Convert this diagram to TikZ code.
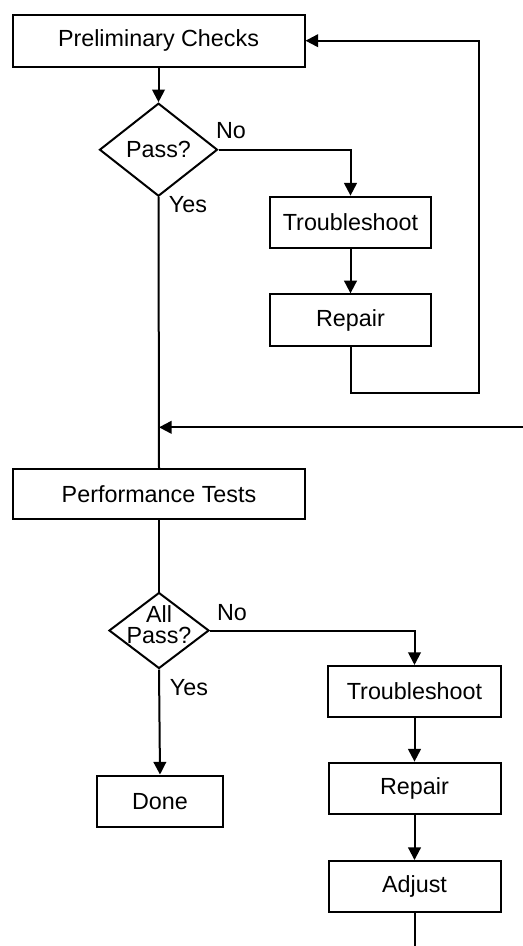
\documentclass[tikz,border=0pt]{standalone}
\usepackage{fontspec}
\setmainfont{Liberation Sans}
\usetikzlibrary{shapes.geometric,arrows.meta}

\tikzset{every picture/.style={line width=0.75pt}}
\tikzset{
  stepbox/.style={draw, line width=1.5, inner sep=0.75pt, minimum height=38.5pt, font=\fontsize{17.5}{20}\selectfont},
  decision/.style={draw, diamond, line width=1.5, inner sep=0pt, align=center, font=\fontsize{17.5}{16}\selectfont},
  flow/.style={line width=1.5},
  flowarrow/.style={line width=1.5, -{Triangle[length=9.5pt,width=9.5pt]}},
  answer/.style={inner sep=0.75pt, font=\fontsize{17.5}{20}\selectfont}
}

\begin{document}
\begin{tikzpicture}[x=0.75pt,y=0.75pt,yscale=-1,xscale=1]
\useasboundingbox (0,0) rectangle (523,946);

%Shape: Rectangle [id:prelim]
\node [stepbox, minimum width=219pt, minimum height=39pt] (prelim) at (158.5,40.7) {Preliminary Checks};
%Shape: Diamond [id:pass]
\node [decision, minimum width=88.5pt, minimum height=69.75pt] (pass) at (158.5,149.7) {Pass?};
%Shape: Rectangle [id:trouble1]
\node [stepbox, minimum width=120.75pt] (trouble1) at (350.5,222.3) {Troubleshoot};
%Shape: Rectangle [id:repair1]
\node [stepbox, minimum width=120.75pt] (repair1) at (350.5,320) {Repair};
%Shape: Rectangle [id:perf]
\node [stepbox, minimum width=218.75pt, minimum height=37.75pt] (perf) at (159,494.2) {Performance Tests};
%Shape: Diamond [id:allpass]
\node [decision, inner sep=-9pt, minimum width=75pt, minimum height=57pt] (allpass) at (159,630.5) {All\\Pass?\rule[-9pt]{0pt}{0pt}};
%Shape: Rectangle [id:done]
\node [stepbox, minimum width=95pt] (done) at (160,801.2) {Done};
%Shape: Rectangle [id:trouble2]
\node [stepbox, minimum width=129.5pt, minimum height=38pt] (trouble2) at (414.5,691.3) {Troubleshoot};
%Shape: Rectangle [id:repair2]
\node [stepbox, minimum width=129pt] (repair2) at (414.5,788.3) {Repair};
%Shape: Rectangle [id:adjust]
\node [stepbox, minimum width=129pt] (adjust) at (414.5,886.7) {Adjust};

%Free ends and corners
\coordinate (loopcorner) at (479,393);
\coordinate (retest) at (523,427.3);
\coordinate (merge) at (159,427.3);
\coordinate (tobottom) at (414.5,946);

%Straight Lines [id:prelim-pass]
\draw [flowarrow] (prelim.south) -- (pass.north);
%Straight Lines [id:pass-trouble1]
\draw [flowarrow] (pass.east) -| (trouble1.north);
%Straight Lines [id:trouble1-repair1]
\draw [flowarrow] (trouble1.south) -- (repair1.north);
%Straight Lines [id:repair1-prelim]
\draw [flowarrow] (repair1.south) |- (loopcorner) |- (prelim.east);
%Straight Lines [id:pass-perf]
\draw [flow] (pass.south) -- (perf.north);
%Straight Lines [id:retest-merge]
\draw [flowarrow] (retest) -- (merge);
%Straight Lines [id:perf-allpass]
\draw [flow] (perf.south) -- (allpass.north);
%Straight Lines [id:allpass-done]
\draw [flowarrow] (allpass.south) -- (done.north);
%Straight Lines [id:allpass-trouble2]
\draw [flowarrow] (allpass.east) -| (trouble2.north);
%Straight Lines [id:trouble2-repair2]
\draw [flowarrow] (trouble2.south) -- (repair2.north);
%Straight Lines [id:repair2-adjust]
\draw [flowarrow] (repair2.south) -- (adjust.north);
%Straight Lines [id:adjust-bottom]
\draw [flow] (adjust.south) -- (tobottom);

% Text Node
\node [answer] (no1) at (231,131) {No};
% Text Node
\node [answer] (yes1) at (188,205) {Yes};
% Text Node
\node [answer] (no2) at (232,613) {No};
% Text Node
\node [answer] (yes2) at (189,688) {Yes};

\end{tikzpicture}
\end{document}
